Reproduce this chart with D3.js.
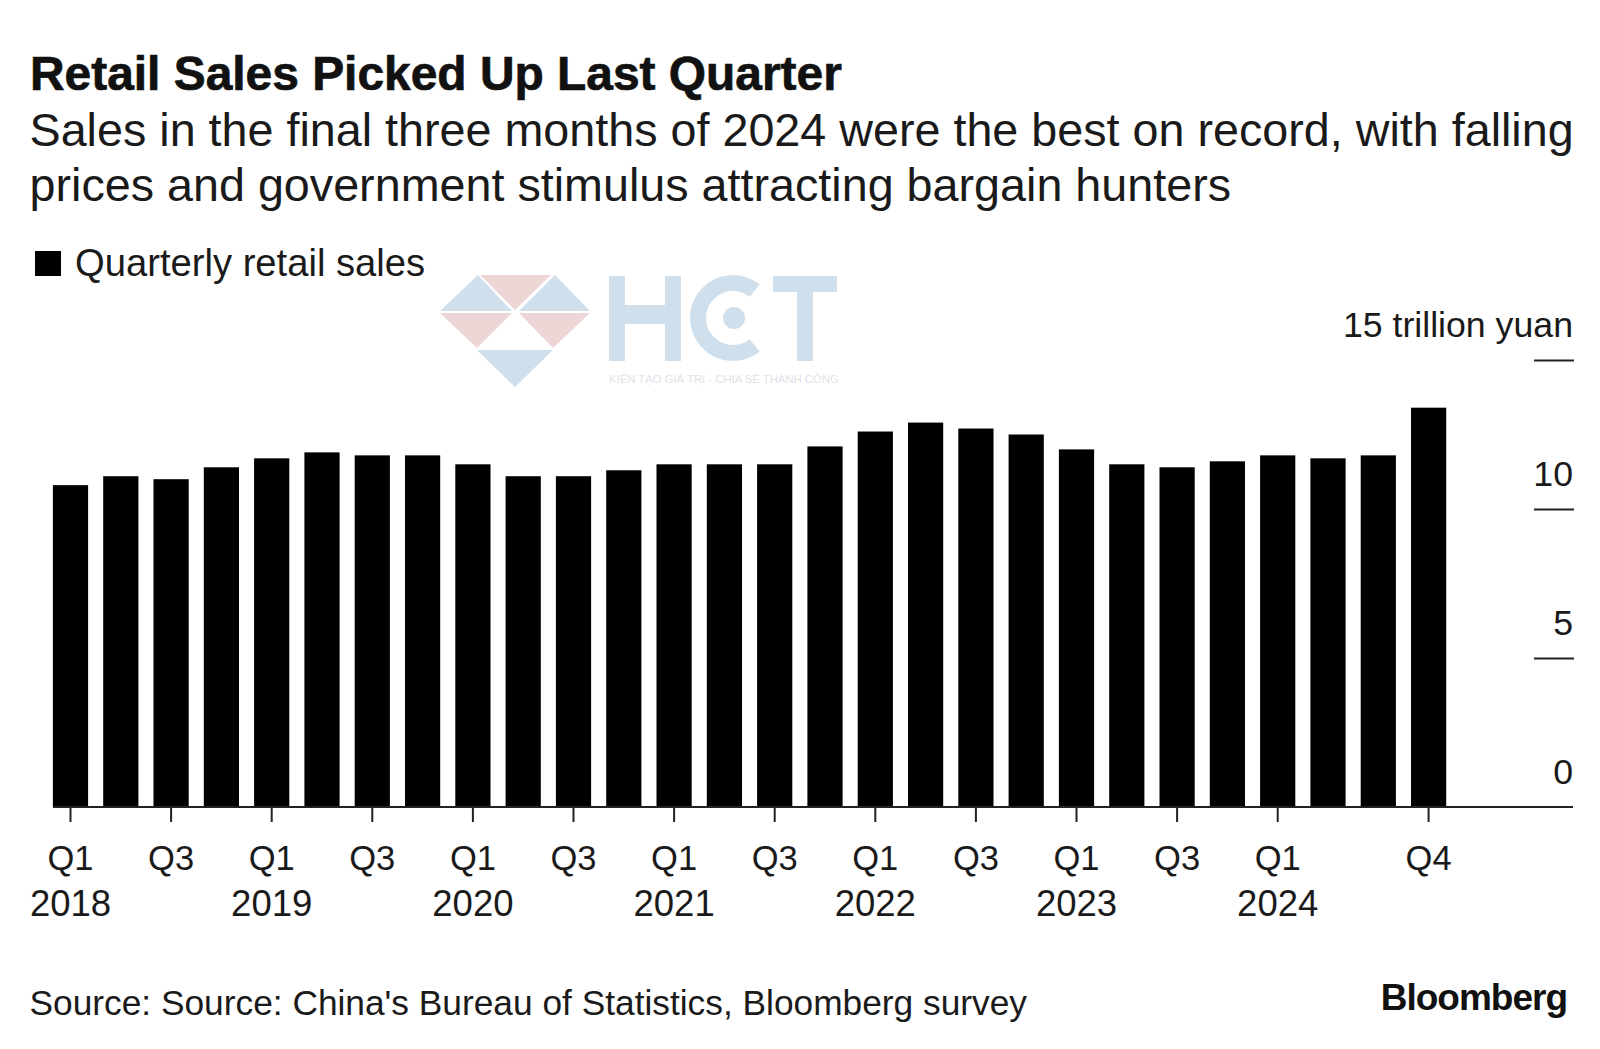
<!DOCTYPE html>
<html>
<head>
<meta charset="utf-8">
<script src="https://cdn.jsdelivr.net/npm/d3@7"></script>
<style>
  html, body { margin: 0; padding: 0; background: #fff; }
  svg { display: block; }
  text { font-family: "Liberation Sans", Arial, sans-serif; fill: #1a1a1a; }
</style>
</head>
<body>
<svg id="chart" width="1600" height="1049"></svg>
<script>
const quarters = [
  "2018Q1", "2018Q2", "2018Q3", "2018Q4", "2019Q1", "2019Q2", "2019Q3", "2019Q4",
  "2020Q1", "2020Q2", "2020Q3", "2020Q4", "2021Q1", "2021Q2", "2021Q3", "2021Q4",
  "2022Q1", "2022Q2", "2022Q3", "2022Q4", "2023Q1", "2023Q2", "2023Q3", "2023Q4",
  "2024Q1", "2024Q2", "2024Q3", "2024Q4",
];
// trillion yuan
const retailSales = [
  10.8, 11.1, 11.0, 11.4, 11.7, 11.9, 11.8, 11.8,
  11.5, 11.1, 11.1, 11.3, 11.5, 11.5, 11.5, 12.1,
  12.6, 12.9, 12.7, 12.5, 12.0, 11.5, 11.4, 11.6,
  11.8, 11.7, 11.8, 13.4,
];
const xTicks = [
  "2018Q1", "2018Q3", "2019Q1", "2019Q3", "2020Q1", "2020Q3", "2021Q1", "2021Q3",
  "2022Q1", "2022Q3", "2023Q1", "2023Q3", "2024Q1", "2024Q4",
];
const yTicks = [0, 5, 10, 15];

const titleText = "Retail Sales Picked Up Last Quarter";
const subtitleLines = [
  "Sales in the final three months of 2024 were the best on record, with falling",
  "prices and government stimulus attracting bargain hunters",
];
const legendText = "Quarterly retail sales";
const sourceText = "Source: Source: China's Bureau of Statistics, Bloomberg survey";

const svg = d3.select("#chart");

const xScale = d3.scaleBand()
  .domain(quarters)
  .range([45.35, 1453.75])
  .paddingInner(0.3)
  .paddingOuter(0.15);

const yScale = d3.scaleLinear().domain([0, 15]).range([807, 360]);

// watermark goes under everything else
const drawWatermark = () => {
  const wm = svg.append("g").attr("class", "watermark");
  const blue = "#cfdfec";
  const pink = "#eed6d6";
  [
    ["M478,275 L512,311 L440,311 Z", blue],
    ["M480,275 L551,275 L515,310 Z", pink],
    ["M555,275 L590,311 L519,311 Z", blue],
    ["M440,313 L512,313 L477,348 Z", pink],
    ["M519,313 L590,313 L553,348 Z", pink],
    ["M477,350 L553,350 L515,387 Z", blue],
  ].forEach(([d, fill]) => wm.append("path").attr("d", d).attr("fill", fill));

  // H
  wm.append("rect").attr("x", 609).attr("y", 276).attr("width", 16).attr("height", 85).attr("fill", blue);
  wm.append("rect").attr("x", 665).attr("y", 276).attr("width", 16).attr("height", 85).attr("fill", blue);
  wm.append("rect").attr("x", 609).attr("y", 305).attr("width", 72).attr("height", 19).attr("fill", blue);
  // C with its dot, open on the right
  wm.append("path")
    .attr("d", d3.arc().innerRadius(27).outerRadius(43).startAngle(Math.PI - 0.67).endAngle(Math.PI * 2 + 0.67)())
    .attr("transform", "translate(733,318)")
    .attr("fill", blue);
  wm.append("circle").attr("cx", 734).attr("cy", 318).attr("r", 11).attr("fill", blue);
  // T
  wm.append("rect").attr("x", 773).attr("y", 276).attr("width", 64).attr("height", 16).attr("fill", blue);
  wm.append("rect").attr("x", 797).attr("y", 276).attr("width", 16).attr("height", 85).attr("fill", blue);
  wm.append("text")
    .attr("x", 609).attr("y", 383)
    .attr("font-size", 11.3)
    .style("fill", "#dfe3e8")
    .text("KIẾN TẠO GIÁ TRỊ - CHIA SẺ THÀNH CÔNG");
};
drawWatermark();

svg.append("text")
  .attr("x", 30).attr("y", 90)
  .attr("font-size", 47.9).attr("font-weight", 700)
  .style("fill", "#111")
  .style("stroke", "#111")
  .style("stroke-width", 0.7)
  .text(titleText);

svg.selectAll("text.subtitle")
  .data(subtitleLines)
  .join("text")
  .attr("class", "subtitle")
  .attr("x", 29.5)
  .attr("y", (d, i) => 146 + i * 55)
  .attr("font-size", 46.7)
  .text((d) => d);

// legend
svg.append("rect").attr("x", 35).attr("y", 251).attr("width", 26).attr("height", 25).attr("fill", "#000");
svg.append("text")
  .attr("x", 75).attr("y", 276)
  .attr("font-size", 38.2)
  .text(legendText);

// bars
svg.append("g")
  .selectAll("rect")
  .data(quarters)
  .join("rect")
  .attr("x", (d) => xScale(d))
  .attr("y", (d, i) => yScale(retailSales[i]))
  .attr("width", xScale.bandwidth())
  .attr("height", (d, i) => yScale(0) - yScale(retailSales[i]))
  .attr("fill", "#000");

// y axis: short rules with the label sitting on top
const yAxis = svg.append("g")
  .attr("transform", "translate(1579,0)")
  .call(d3.axisLeft(yScale).tickValues(yTicks).tickSize(40).tickFormat((d) => (d === 15 ? "15 trillion yuan" : d)));
yAxis.attr("transform", "translate(1574,0)");
yAxis.select(".domain").remove();
yAxis.selectAll("line").attr("stroke", "#222").attr("stroke-width", 2);
yAxis.selectAll("text")
  .attr("x", -1).attr("dy", 0).attr("y", -24)
  .attr("text-anchor", "end")
  .attr("font-size", 35.7)
  .attr("font-family", null);
yAxis.selectAll(".tick").filter((d) => d === 0).select("line").remove();

// x axis
const xAxis = svg.append("g")
  .attr("transform", "translate(0,807)")
  .call(d3.axisBottom(xScale).tickValues(xTicks).tickSize(15).tickFormat(() => ""));
xAxis.select(".domain").remove();
xAxis.selectAll("line").attr("stroke", "#222").attr("stroke-width", 2);

const xLabels = xAxis.selectAll(".tick text")
  .attr("y", 0).attr("dy", 0)
  .attr("font-size", 36.5)
  .attr("text-anchor", "middle")
  .attr("font-family", null);
xLabels.append("tspan")
  .attr("x", 0).attr("y", 63)
  .attr("font-size", 34.5)
  .text((d) => d.slice(4));
xLabels.filter((d) => d.endsWith("Q1")).append("tspan")
  .attr("x", 0).attr("y", 109)
  .text((d) => d.slice(0, 4));

svg.append("line")
  .attr("x1", 53).attr("x2", 1573)
  .attr("y1", yScale(0)).attr("y2", yScale(0))
  .attr("stroke", "#222").attr("stroke-width", 2);

// footer
svg.append("text")
  .attr("x", 29.5).attr("y", 1015)
  .attr("font-size", 35.3)
  .text(sourceText);
svg.append("text")
  .attr("x", 1567).attr("y", 1010)
  .attr("text-anchor", "end")
  .attr("font-size", 37).attr("font-weight", 700)
  .style("letter-spacing", "-1px")
  .style("fill", "#111")
  .text("Bloomberg");
</script>
</body>
</html>
